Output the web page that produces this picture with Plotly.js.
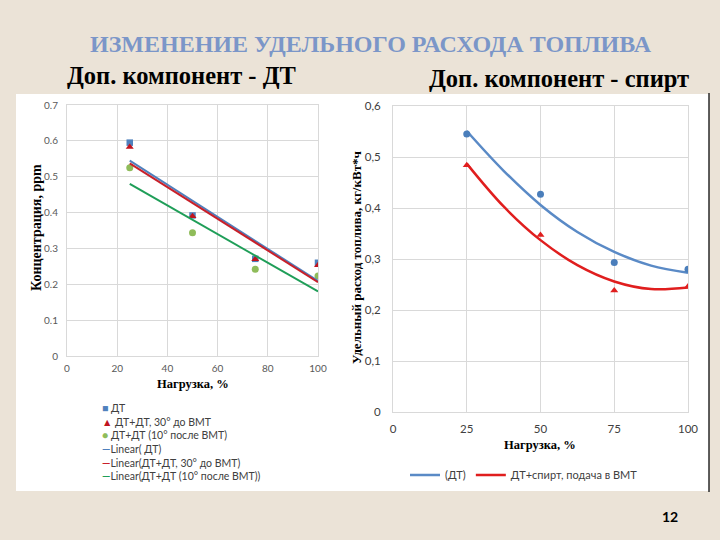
<!DOCTYPE html>
<html>
<head>
<meta charset="utf-8">
<script src="https://cdn.plot.ly/plotly-3.0.1.min.js"></script>
<style>html,body{margin:0;padding:0;background:#ebe3d7;}#chart{width:720px;height:540px;}</style>
</head>
<body>
<div id="chart"></div>
<script>
// ---------- Left chart: Доп. компонент - ДТ ----------
const loadLeft = [25, 50, 75, 100];
const dtConc = [0.595, 0.392, 0.271, 0.260];
const dt30Conc = [0.583, 0.390, 0.270, 0.253];
const dt10Conc = [0.525, 0.344, 0.242, 0.223];
const trendX = [25, 100];
const dtTrend = [0.545, 0.209];
const dt30Trend = [0.537, 0.206];
const dt10Trend = [0.480, 0.180];
const leftNames = ['ДТ', 'ДТ+ДТ, 30° до ВМТ', 'ДТ+ДТ (10° после ВМТ)',
  'Linear( ДТ)', 'Linear(ДТ+ДТ, 30° до ВМТ)', 'Linear(ДТ+ДТ (10° после ВМТ))'];

// ---------- Right chart: Доп. компонент - спирт ----------
const loadRight = [25, 50, 75, 100];
const dtFuel = [0.545, 0.427, 0.293, 0.280];
const spirtFuel = [0.484, 0.347, 0.238, 0.246];
const curveX = [25, 37.5, 50, 62.5, 75, 87.5, 100];
const dtCurve = [0.551, 0.473, 0.406, 0.353, 0.314, 0.287, 0.273];
const spirtCurve = [0.487, 0.403, 0.337, 0.288, 0.256, 0.241, 0.244];
const rightNames = ['(ДТ)', 'ДТ+спирт, подача в ВМТ'];
const rightYTickVals = [0, 0.1, 0.2, 0.3, 0.4, 0.5, 0.6];
const rightYTickText = ['0', '0,1', '0,2', '0,3', '0,4', '0,5', '0,6'];
const rightXTickVals = [0, 25, 50, 75, 100];

const W = 720, H = 540;
const px = v => v / W;
const py = v => 1 - v / H;

const cBlue = '#4f81bd', cRed = '#c0141e', cGreen = '#8fbc5a';
const cBlueLine = '#4f7fbc', cRedLine = '#c8202a', cGreenLine = '#1f9e58';
const cBlue2 = '#4a7ebb', cRed2 = '#e01e1e';

const traces = [
  {x: loadLeft, y: dtConc, type: 'scatter', mode: 'markers', name: leftNames[0], showlegend: false,
   marker: {symbol: 'square', size: 6.5, color: cBlue}, xaxis: 'x', yaxis: 'y'},
  {x: loadLeft, y: dt30Conc, type: 'scatter', mode: 'markers', name: leftNames[1], showlegend: false,
   marker: {symbol: 'triangle-up', size: 7, color: cRed}, xaxis: 'x', yaxis: 'y'},
  {x: loadLeft, y: dt10Conc, type: 'scatter', mode: 'markers', name: leftNames[2], showlegend: false,
   marker: {symbol: 'circle', size: 7, color: cGreen}, xaxis: 'x', yaxis: 'y'},
  {x: trendX, y: dtTrend, type: 'scatter', mode: 'lines', name: leftNames[3], showlegend: false,
   line: {color: cBlueLine, width: 2}, xaxis: 'x', yaxis: 'y'},
  {x: trendX, y: dt30Trend, type: 'scatter', mode: 'lines', name: leftNames[4], showlegend: false,
   line: {color: cRedLine, width: 2}, xaxis: 'x', yaxis: 'y'},
  {x: trendX, y: dt10Trend, type: 'scatter', mode: 'lines', name: leftNames[5], showlegend: false,
   line: {color: cGreenLine, width: 2}, xaxis: 'x', yaxis: 'y'},

  {x: curveX, y: dtCurve, type: 'scatter', mode: 'lines', name: rightNames[0], showlegend: true,
   line: {color: '#5a8ac6', width: 2.5, shape: 'spline'}, xaxis: 'x2', yaxis: 'y2'},
  {x: curveX, y: spirtCurve, type: 'scatter', mode: 'lines', name: rightNames[1], showlegend: true,
   line: {color: cRed2, width: 2.5, shape: 'spline'}, xaxis: 'x2', yaxis: 'y2'},
  {x: loadRight, y: dtFuel, type: 'scatter', mode: 'markers', name: rightNames[0] + ' data', showlegend: false,
   marker: {symbol: 'circle', size: 7, color: cBlue2}, xaxis: 'x2', yaxis: 'y2'},
  {x: loadRight, y: spirtFuel, type: 'scatter', mode: 'markers', name: rightNames[1] + ' data', showlegend: false,
   marker: {symbol: 'triangle-up', size: 7, color: cRed2}, xaxis: 'x2', yaxis: 'y2'}
];

const gridC = '#d9d9d9';
const tickFontL = {family: 'Lato, sans-serif', size: 10, color: '#595959'};
const tickFontR = {family: 'Lato, sans-serif', size: 11.5, color: '#404040'};

const serifB = (size, color) => ({family: '"Liberation Serif", "Times New Roman", serif', size: size, color: color || '#000', weight: 'bold'});

const legendSymbols = [
  {c: cBlue, s: '■'}, {c: cRed, s: '▲'}, {c: cGreen, s: '●'},
  {c: cBlueLine, s: '<b>—</b>'}, {c: cRedLine, s: '<b>—</b>'}, {c: cGreenLine, s: '<b>—</b>'}
];
const leftLegendText = leftNames.map((n, i) =>
  '<span style="color:' + legendSymbols[i].c + '">' + legendSymbols[i].s + '</span>' + (i < 3 ? ' ' : '') + n
).join('<br>');

const layout = {
  width: W, height: H,
  margin: {l: 0, r: 0, t: 0, b: 0},
  paper_bgcolor: '#ebe3d7',
  plot_bgcolor: '#ffffff',
  showlegend: true,
  xaxis: {domain: [px(67), px(318)], range: [0, 100], dtick: 20, showgrid: true, gridcolor: gridC,
    zeroline: false, showline: true, mirror: true, linecolor: gridC, linewidth: 1,
    tickfont: tickFontL, ticks: '', ticklabelstandoff: 3, anchor: 'y'},
  yaxis: {domain: [py(356), py(105)], range: [0, 0.7], dtick: 0.1, showgrid: true, gridcolor: gridC,
    zeroline: false, showline: true, mirror: true, linecolor: gridC, linewidth: 1,
    tickfont: tickFontL, ticks: '', ticklabelstandoff: 6, anchor: 'x'},
  xaxis2: {domain: [px(393), px(688)], range: [0, 100], tickvals: rightXTickVals, showgrid: true, gridcolor: gridC,
    zeroline: false, showline: true, mirror: true, linecolor: gridC, linewidth: 1,
    tickfont: tickFontR, ticks: '', ticklabelstandoff: 6, anchor: 'y2'},
  yaxis2: {domain: [py(412), py(106)], range: [0, 0.6], tickvals: rightYTickVals, ticktext: rightYTickText,
    showgrid: true, gridcolor: gridC, zeroline: false, showline: true, mirror: true, linecolor: gridC, linewidth: 1,
    tickfont: tickFontR, ticks: '', ticklabelstandoff: 9, anchor: 'x2'},
  legend: {orientation: 'h', x: px(524), xanchor: 'center', y: py(475), yanchor: 'middle',
    bgcolor: 'rgba(0,0,0,0)', font: {family: 'Lato, sans-serif', size: 11, color: '#404040'},
    itemwidth: 30, traceorder: 'normal'},
  shapes: [
    {type: 'rect', xref: 'paper', yref: 'paper', x0: px(16), x1: px(709), y0: py(491), y1: py(94),
     fillcolor: '#ffffff', line: {width: 0}, layer: 'below'},
    {type: 'line', xref: 'paper', yref: 'paper', x0: px(709), x1: px(709), y0: py(492), y1: py(93),
     line: {color: '#2a2a2a', width: 1.5}}
  ],
  annotations: [
    {text: 'ИЗМЕНЕНИЕ УДЕЛЬНОГО РАСХОДА ТОПЛИВА', xref: 'paper', yref: 'paper', x: px(371), y: py(44),
     xanchor: 'center', yanchor: 'middle', showarrow: false, font: serifB(24, '#7b96c8')},
    {text: 'Доп. компонент - ДТ', xref: 'paper', yref: 'paper', x: px(181), y: py(76),
     xanchor: 'center', yanchor: 'middle', showarrow: false, font: serifB(24.5)},
    {text: 'Доп. компонент - спирт', xref: 'paper', yref: 'paper', x: px(559), y: py(79),
     xanchor: 'center', yanchor: 'middle', showarrow: false, font: serifB(24.5)},
    {text: 'Концентрация, ppm', xref: 'paper', yref: 'paper', x: px(36), y: py(228), textangle: -90,
     xanchor: 'center', yanchor: 'middle', showarrow: false, font: serifB(14)},
    {text: 'Нагрузка, %', xref: 'paper', yref: 'paper', x: px(193), y: py(384),
     xanchor: 'center', yanchor: 'middle', showarrow: false, font: serifB(12.5)},
    {text: 'Удельный расход топлива, кг/кВт*ч', xref: 'paper', yref: 'paper', x: px(356), y: py(258), textangle: -90,
     xanchor: 'center', yanchor: 'middle', showarrow: false, font: serifB(13)},
    {text: 'Нагрузка, %', xref: 'paper', yref: 'paper', x: px(540), y: py(445),
     xanchor: 'center', yanchor: 'middle', showarrow: false, font: serifB(12.5)},
    {text: leftLegendText, xref: 'paper', yref: 'paper', x: px(100), y: py(400), align: 'left',
     xanchor: 'left', yanchor: 'top', showarrow: false,
     font: {family: 'Lato, sans-serif', size: 10.5, color: '#404040'}},
    {text: '12', xref: 'paper', yref: 'paper', x: px(670), y: py(516),
     xanchor: 'center', yanchor: 'middle', showarrow: false,
     font: {family: 'Lato, sans-serif', size: 14, color: '#000', weight: 'bold'}}
  ]
};

Plotly.newPlot('chart', traces, layout, {displayModeBar: false, staticPlot: true});
</script>
</body>
</html>
